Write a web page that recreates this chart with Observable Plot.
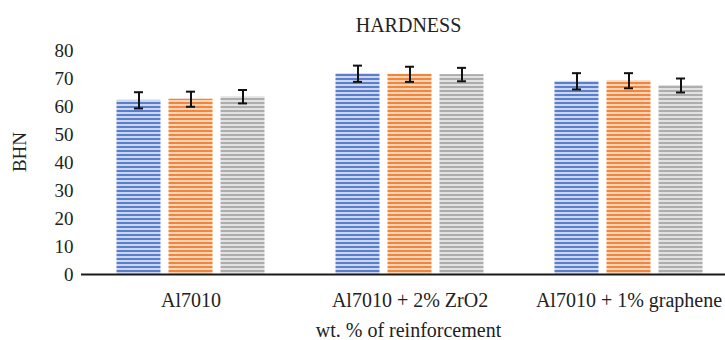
<!DOCTYPE html>
<html>
<head>
<meta charset="utf-8">
<script src="https://cdn.jsdelivr.net/npm/d3@7"></script>
<script src="https://cdn.jsdelivr.net/npm/@observablehq/plot@0.6"></script>
<style>
  body { margin: 0; background: #fff; }
  #wrap { position: relative; width: 725px; height: 340px; overflow: hidden;
          font-family: "Liberation Serif", "DejaVu Serif", serif; color: #222; }
  #wrap svg { position: absolute; left: 0; top: 38px; font-family: "Liberation Serif", "DejaVu Serif", serif !important; }
  #wrap svg text { font-family: "Liberation Serif", "DejaVu Serif", serif !important; }
  .lbl { position: absolute; white-space: nowrap; line-height: 20px; font-family: "Liberation Serif", serif; }
  #title { top: 15px; left: 408.5px; transform: translateX(-50%); font-size: 20px; }
  #xlabel { top: 320px; left: 408.5px; transform: translateX(-50%); font-size: 20px; }
  #ylabel { top: 152px; left: 20px; transform: translate(-50%, -50%) rotate(-90deg); font-size: 19px; }
</style>
</head>
<body>
<div id="wrap"></div>
<script>
const chartTitle = "HARDNESS";
const yLabel = "BHN";
const xLabel = "wt. % of reinforcement";
const categories = ["Al7010", "Al7010 + 2% ZrO2", "Al7010 + 1% graphene"];
const seriesNames = ["Sample 1", "Sample 2", "Sample 3"];
// hardness values per category (rows) and series (columns)
const hardness = [
  [62.2, 62.6, 63.5],
  [71.7, 71.5, 71.4],
  [69.0, 69.2, 67.5]
];
const errors = [
  [2.9, 2.7, 2.4],
  [2.9, 2.7, 2.4],
  [2.9, 2.7, 2.5]
];
const yTicks = [0, 10, 20, 30, 40, 50, 60, 70, 80];

const rows = categories.flatMap((c, i) =>
  seriesNames.map((s, j) => ({category: c, series: s, value: hardness[i][j], err: errors[i][j]}))
);

const patternIds = ["pat-blue", "pat-orange", "pat-gray"];
const patternColors = [
  {light: "#cbd6ef", dark: "#5a7ecb"},
  {light: "#fcd5b8", dark: "#f0863e"},
  {light: "#e2e2e2", dark: "#adadad"}
];

const svg = Plot.plot({
  width: 725,
  height: 280,
  marginTop: 12,
  marginBottom: 44,
  marginLeft: 80.5,
  marginRight: 0,
  style: "font-family: 'Liberation Serif', serif; font-size: 19px; color: #222; background: transparent; overflow: hidden;",
  fx: {domain: categories, range: [80.5, 737.5], padding: 0},
  x: {domain: seriesNames, paddingInner: 0.15, paddingOuter: 0.68, axis: null},
  y: {domain: [0, 80], axis: null},
  color: {domain: seriesNames, range: patternIds.map(id => `url(#${id})`)},
  marks: [
    Plot.barY(rows, {fx: "category", x: "series", y: "value", fill: "series"}),
    Plot.ruleY([0], {stroke: "#1a1a1a", strokeWidth: 2}),
    Plot.ruleX(rows, {fx: "category", x: "series", y1: d => d.value - d.err, y2: d => d.value + d.err, stroke: "#111", strokeWidth: 2}),
    Plot.tickY(rows, {fx: "category", x: "series", y: d => d.value - d.err, insetLeft: 17.5, insetRight: 17.5, stroke: "#111", strokeWidth: 2}),
    Plot.tickY(rows, {fx: "category", x: "series", y: d => d.value + d.err, insetLeft: 17.5, insetRight: 17.5, stroke: "#111", strokeWidth: 2}),
    Plot.axisY({ticks: yTicks, tickSize: 0, tickPadding: 8, label: null, fill: "#222", fontFamily: "Liberation Serif"}),
    Plot.axisFx({anchor: "bottom", tickSize: 0, tickPadding: 18, label: null, fontSize: 20, fill: "#222", fontFamily: "Liberation Serif"})
  ]
});

const defs = d3.select(svg).insert("defs", ":first-child");
patternIds.forEach((id, i) => {
  const p = defs.append("pattern").attr("id", id).attr("patternUnits", "userSpaceOnUse")
    .attr("width", 8).attr("height", 4);
  p.append("rect").attr("width", 8).attr("height", 4).attr("fill", patternColors[i].light);
  p.append("rect").attr("y", 0).attr("width", 8).attr("height", 2).attr("fill", patternColors[i].dark);
});

const wrap = document.getElementById("wrap");
wrap.appendChild(svg);
const addLabel = (id, text) => {
  const d = document.createElement("div");
  d.id = id; d.className = "lbl"; d.textContent = text;
  wrap.appendChild(d);
};
addLabel("title", chartTitle);
addLabel("xlabel", xLabel);
addLabel("ylabel", yLabel);
</script>
</body>
</html>
